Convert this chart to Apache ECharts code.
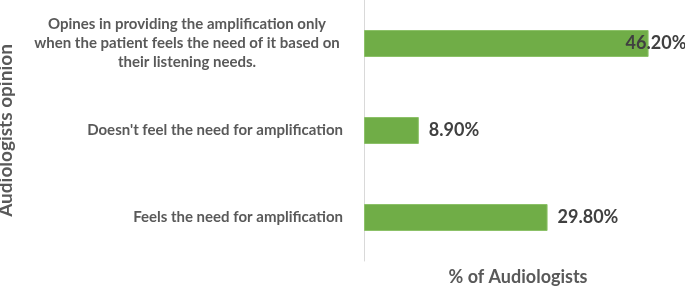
<!DOCTYPE html>
<html>
<head>
<meta charset="utf-8">
<script src="https://cdn.jsdelivr.net/npm/echarts@6/dist/echarts.min.js"></script>
<style>
  html, body { margin: 0; padding: 0; background: #fff; }
  #chart { width: 685px; height: 288px; }
</style>
</head>
<body>
<div id="chart"></div>
<script>
// 数据
const opinions = [
  'Opines in providing the amplification only\nwhen the patient feels the need of it based on\ntheir listening needs.',
  "Doesn't feel the need for amplification",
  'Feels the need for amplification'
];
const percents = [46.2, 8.9, 29.8];

const chart = echarts.init(document.getElementById('chart'));

let barData = []
for (let i = 0; i < percents.length; i++) {
  let item = { value: percents[i] }
  // 第一条标签压在柱子末端
  if (i == 0) {
    item.label = { offset: [-33, 0] }
  }
  barData.push(item)
}

chart.setOption({
  animation: false,
  textStyle: { fontFamily: 'Lato' },
  grid: { left: 364, right: 13, top: 0, bottom: 27, outerBoundsMode: 'none', containLabel: false },
  xAxis: {
    type: 'value',
    min: 0,
    max: 50,
    name: '% of Audiologists',
    nameLocation: 'middle',
    nameGap: 7,
    nameTextStyle: { color: '#595959', fontSize: 18, fontWeight: 'bold', fontFamily: 'Lato' },
    axisLine: { show: false },
    axisTick: { show: false },
    axisLabel: { show: false },
    splitLine: { show: false }
  },
  yAxis: {
    type: 'category',
    inverse: true,
    data: opinions,
    name: 'Audiologists opinion',
    nameLocation: 'middle',
    nameGap: 349,
    nameRotate: 90,
    nameTextStyle: { color: '#595959', fontSize: 19, fontWeight: 'bold', fontFamily: 'Lato' },
    axisLine: { show: true, lineStyle: { color: '#d9d9d9', width: 1 } },
    axisTick: { show: false },
    axisLabel: {
      margin: 21,
      color: '#595959',
      fontSize: 15,
      fontWeight: 'bold',
      fontFamily: 'Lato',
      lineHeight: 19,
      formatter: function (val) {
        let lines = val.split('\n')
        if (lines.length == 1) return val
        return lines.map(l => '{c|' + l + '}').join('\n')
      },
      rich: {
        c: { width: 312, align: 'center', color: '#595959', fontSize: 15, fontWeight: 'bold', fontFamily: 'Lato', lineHeight: 19 }
      }
    }
  },
  series: [{
    type: 'bar',
    data: barData,
    barWidth: 27,
    itemStyle: { color: '#70ad47', borderColor: '#8cc168', borderWidth: 1 },
    label: {
      show: true,
      position: 'right',
      distance: 10,
      color: '#404040',
      fontSize: 18,
      fontWeight: 'bold',
      fontFamily: 'Lato',
      formatter: p => p.value.toFixed(2) + '%'
    }
  }]
});
</script>
</body>
</html>
